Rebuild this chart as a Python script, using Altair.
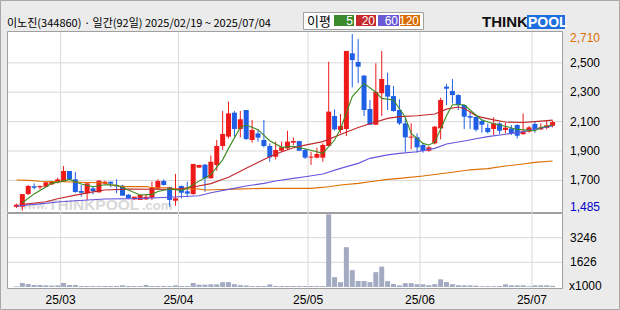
import altair as alt
import pandas as pd

# ---------------- data ----------------
title_text = "이노진(344860) · 일간(92일) 2025/02/19 ~ 2025/07/04"

open_ = [1520, 1521, 1607, 1660, 1653, 1657, 1673, 1687, 1691, 1764,
         1707, 1628, 1612, 1646, 1619, 1678, 1691, 1666, 1664, 1603,
         1571, 1567, 1571, 1582, 1644, 1696, 1655, 1562, 1662, 1626,
         1607, 1787, 1807, 1714, 1805, 1934, 1998, 2161, 2050, 2179,
         1975, 2020, 1975, 1934, 1861, 1902, 1918, 1957, 1968, 1907,
         1855, 1855, 1855, 1934, 2138, 2043, 2050, 2565, 2506, 2413,
         2186, 2079, 2293, 2349, 2274, 2179, 2088, 1991, 1993, 1941,
         1902, 1952, 2054, 2338, 2308, 2281, 2213, 2138, 2132, 2104,
         2057, 2050, 2088, 2043, 2054, 2077, 2014, 2032, 2084, 2047,
         2057, 2072]
high = [1542, 1607, 1669, 1680, 1666, 1691, 1696, 1718, 1798, 1764,
        1757, 1669, 1680, 1662, 1703, 1696, 1691, 1707, 1669, 1607,
        1589, 1605, 1607, 1691, 1707, 1707, 1657, 1744, 1666, 1691,
        1812, 1807, 1812, 1870, 1975, 2172, 2236, 2172, 2172, 2179,
        2111, 2043, 2111, 1952, 1964, 1964, 2038, 1993, 1968, 1918,
        1895, 1923, 1952, 2508, 2184, 2152, 2581, 2696, 2662, 2417,
        2247, 2497, 2581, 2433, 2342, 2252, 2129, 2088, 2020, 1952,
        1934, 2070, 2263, 2356, 2390, 2286, 2213, 2168, 2134, 2116,
        2088, 2129, 2095, 2093, 2077, 2082, 2156, 2070, 2100, 2088,
        2107, 2107]
low = [1512, 1494, 1601, 1639, 1639, 1653, 1669, 1680, 1691, 1707,
       1616, 1589, 1567, 1605, 1616, 1675, 1653, 1612, 1596, 1573,
       1567, 1567, 1567, 1567, 1639, 1664, 1521, 1528, 1578, 1585,
       1603, 1787, 1623, 1714, 1766, 1907, 1986, 1998, 1993, 1975,
       1957, 1964, 1925, 1827, 1843, 1895, 1910, 1941, 1902, 1846,
       1805, 1850, 1827, 1934, 2038, 2020, 2002, 2333, 2361, 2138,
       2079, 2079, 2138, 2179, 2168, 2077, 1895, 1911, 1889, 1889,
       1895, 1945, 1979, 2213, 2224, 2179, 2050, 2050, 2032, 2025,
       2020, 2009, 2016, 2020, 2009, 1986, 2014, 2025, 2025, 2043,
       2048, 2061]
close = [1535, 1607, 1662, 1650, 1662, 1687, 1691, 1707, 1764, 1707,
         1621, 1616, 1680, 1628, 1698, 1691, 1678, 1659, 1596, 1578,
         1589, 1601, 1589, 1653, 1696, 1669, 1567, 1578, 1616, 1610,
         1812, 1805, 1714, 1827, 1934, 2016, 2156, 2050, 2116, 1982,
         2043, 1991, 1934, 1857, 1907, 1925, 1964, 1968, 1902, 1855,
         1862, 1880, 1941, 2168, 2047, 2070, 2581, 2519, 2474, 2179,
         2079, 2302, 2390, 2270, 2172, 2088, 1993, 1998, 1925, 1902,
         1925, 2066, 2247, 2324, 2281, 2213, 2134, 2127, 2045, 2079,
         2029, 2088, 2038, 2059, 2020, 2004, 2032, 2061, 2050, 2061,
         2075, 2097]
volume = [44, 263, 197, 132, 132, 110, 88, 110, 263, 132,
          132, 66, 66, 66, 66, 66, 66, 66, 110, 66,
          66, 66, 132, 66, 66, 66, 66, 110, 66, 66,
          263, 154, 154, 175, 175, 318, 318, 186, 121, 99,
          66, 66, 66, 175, 66, 66, 66, 66, 66, 66,
          66, 66, 66, 4781, 647, 318, 2620, 1108, 395, 395,
          318, 976, 1340, 384, 197, 110, 252, 252, 186, 175,
          121, 186, 504, 329, 186, 121, 110, 110, 88, 55,
          55, 55, 66, 175, 110, 110, 110, 55, 110, 110,
          110, 77]

ma5_idx = [1, 3, 5, 6, 8, 9, 11, 13, 15, 17, 19, 21, 23, 24, 26, 28, 29, 31,
           33, 35, 36, 38, 39, 41, 43, 45, 47, 50, 52, 54, 55, 57, 59, 61,
           62, 64, 66, 67, 69, 70, 71, 73, 74, 76, 77, 79, 81, 83, 85, 88, 89, 91]
ma5_val = [1548, 1608, 1655, 1680, 1697, 1707, 1676, 1657, 1670, 1669, 1635,
           1601, 1605, 1625, 1641, 1632, 1646, 1695, 1740, 1840, 1918, 2060,
           2077, 2045, 1970, 1925, 1932, 1905, 1884, 1975, 2050, 2270, 2360,
           2300, 2258, 2247, 2130, 2020, 1952, 1941, 1960, 2140, 2215, 2215,
           2179, 2111, 2085, 2068, 2047, 2038, 2060, 2077]
ma20_idx = [1, 2, 5, 7, 10, 13, 15, 19, 23, 27, 30, 33, 36, 39, 42, 44, 47, 49,
            52, 55, 58, 60, 63, 65, 68, 71, 73, 75, 76, 77, 78, 79, 81, 83, 86,
            88, 91]
ma20_val = [1535, 1541, 1555, 1575, 1600, 1622, 1635, 1641, 1640, 1639, 1655,
            1678, 1722, 1782, 1843, 1880, 1922, 1940, 1964, 2012, 2060, 2086,
            2122, 2134, 2140, 2152, 2185, 2200, 2190, 2165, 2140, 2129, 2112,
            2097, 2094, 2100, 2110]
ma60_idx = [0, 4, 7, 10, 15, 20, 26, 31, 33, 36, 39, 42, 44, 47, 49, 52, 55, 58,
            60, 63, 65, 68, 71, 73, 76, 78, 80, 83, 86, 88, 91]
ma60_val = [1526, 1540, 1553, 1562, 1573, 1576, 1585, 1596, 1616, 1639, 1662,
            1680, 1696, 1714, 1725, 1744, 1782, 1816, 1850, 1874, 1884, 1895,
            1918, 1948, 1968, 1983, 1998, 2014, 2032, 2048, 2070]
ma120_idx = [0, 2, 4, 8, 12, 15, 16, 18, 22, 23, 26, 27, 31, 32, 35, 37, 42, 50,
             53, 55, 58, 60, 63, 65, 69, 74, 77, 80, 83, 86, 88, 91]
ma120_val = [1703, 1700, 1694, 1691, 1686, 1684, 1669, 1658, 1658, 1650, 1650,
             1642, 1642, 1635, 1638, 1641, 1646, 1646, 1657, 1669, 1680, 1691,
             1707, 1714, 1730, 1755, 1772, 1780, 1798, 1812, 1823, 1832]

price_ticks = [2500, 2300, 2100, 1900, 1700]
price_top = 2710
price_bottom = 1485
vol_ticks = [1626, 3246]
vol_max = 4869
month_labels = ["25/03", "25/04", "25/05", "25/06", "25/07"]
month_first_idx = [8, 28, 50, 69, 88]
legend_title = "이평"
legend_labels = ["5", "20", "60", "120"]

# ---------------- styling ----------------
UP, DOWN = "#ee1a1a", "#1f5fe6"
C5, C20, C60, C120 = "#3a8a1e", "#c0282a", "#6655dd", "#dd6e00"
LEG = ["#3b8a2c", "#c52a2a", "#6a5ad6", "#d96c00"]
GRID = "#d8d8d8"
BORDER = "#a0a0a0"
NUMFONT = "Liberation Sans"
KFONT = "Noto Sans CJK KR"

W, H = 554, 255
PH = 180            # price panel height
VT, VB = 181, 255   # volume panel top / bottom

n = len(close)
cdf = pd.DataFrame({
    "idx": list(range(n)), "o": open_, "h": high, "l": low, "c": close,
    "v": volume,
})
cdf["top"] = cdf[["o", "c"]].max(axis=1)
cdf["bot"] = cdf[["o", "c"]].min(axis=1)
cdf["dir"] = ["up" if c >= o else "down" for o, c in zip(open_, close)]

d0 = -3.5 / 6
xs = alt.Scale(domain=[d0, d0 + W / 6], nice=False, zero=False)
ps = alt.Scale(domain=[price_bottom, price_top], range=[PH, 0], nice=False, zero=False)
vs = alt.Scale(domain=[0, vol_max], range=[VB, VT], nice=False, zero=True)
X = alt.X("idx:Q", scale=xs, axis=None)
col = alt.Color("dir:N", scale=alt.Scale(domain=["up", "down"], range=[UP, DOWN]), legend=None)

one = pd.DataFrame({"k": [0]})
base1 = alt.Chart(one)

layers = []

# panels
layers.append(base1.mark_rect(fill="white", stroke=BORDER, strokeWidth=1).encode(
    x=alt.value(-0.5), x2=alt.value(554.5), y=alt.value(-0.5), y2=alt.value(180.5)))
layers.append(base1.mark_rect(fill="white", stroke=BORDER, strokeWidth=1).encode(
    x=alt.value(-0.5), x2=alt.value(554.5), y=alt.value(181.5), y2=alt.value(256.5)))

# horizontal grid
layers.append(alt.Chart(pd.DataFrame({"p": price_ticks})).mark_rule(color=GRID, strokeWidth=1).encode(
    y=alt.Y("p:Q", scale=ps, axis=None), x=alt.value(0), x2=alt.value(554)))
layers.append(alt.Chart(pd.DataFrame({"p": vol_ticks})).mark_rule(color=GRID, strokeWidth=1).encode(
    y=alt.Y("p:Q", scale=vs, axis=None), x=alt.value(0), x2=alt.value(554)))

# vertical grid
gdf = pd.DataFrame({"idx": [i - 0.5 for i in month_first_idx], "lab": month_labels})
layers.append(alt.Chart(gdf).mark_rule(color=GRID, strokeWidth=1).encode(
    x=X, y=alt.value(0), y2=alt.value(256)))

# watermark
wm_color = "#c6c6c6"
layers.append(base1.mark_text(text="www.", font=NUMFONT, fontSize=11, fontWeight="bold",
                              color=wm_color, opacity=0.65, align="left", baseline="alphabetic").encode(
    x=alt.value(11), y=alt.value(177)))
layers.append(base1.mark_text(text="THINKPOOL", font=NUMFONT, fontSize=15.5, fontWeight="bold",
                              color=wm_color, opacity=0.65, align="left", baseline="alphabetic").encode(
    x=alt.value(40), y=alt.value(178)))
layers.append(base1.mark_text(text=".com", font=NUMFONT, fontSize=13, fontWeight="bold",
                              color=wm_color, opacity=0.65, align="left", baseline="alphabetic").encode(
    x=alt.value(134), y=alt.value(178)))

# candles
cbase = alt.Chart(cdf)
layers.append(cbase.mark_rule(strokeWidth=1).encode(
    x=X, y=alt.Y("l:Q", scale=ps, axis=None), y2="h:Q", color=col))
layers.append(cbase.mark_bar(size=5).encode(
    x=X, y=alt.Y("bot:Q", scale=ps, axis=None), y2="top:Q", color=col))

# moving averages
for ids, vals, c in [(ma120_idx, ma120_val, C120), (ma60_idx, ma60_val, C60),
                     (ma20_idx, ma20_val, C20), (ma5_idx, ma5_val, C5)]:
    mdf = pd.DataFrame({"idx": ids, "m": vals})
    layers.append(alt.Chart(mdf).mark_line(color=c, strokeWidth=1.1).encode(
        x=X, y=alt.Y("m:Q", scale=ps, axis=None)))

# volume
layers.append(cbase.mark_bar(size=5, color="#a3abc3").encode(
    x=X, y=alt.Y("v:Q", scale=vs, axis=None)))

# right price labels
layers.append(alt.Chart(pd.DataFrame({"p": price_ticks})).mark_text(
    font=NUMFONT, fontSize=12, color="#000", align="left", baseline="middle").encode(
    y=alt.Y("p:Q", scale=ps, axis=None), x=alt.value(562),
    text=alt.Text("p:Q", format=",")))
layers.append(base1.mark_text(text=f"{price_top:,}", font=NUMFONT, fontSize=12, color=C120,
                              align="left", baseline="middle").encode(x=alt.value(562), y=alt.value(6)))
layers.append(base1.mark_text(text=f"{price_bottom:,}", font=NUMFONT, fontSize=12, color="#0000cc",
                              align="left", baseline="middle").encode(x=alt.value(562), y=alt.value(175)))

# volume labels
layers.append(alt.Chart(pd.DataFrame({"p": vol_ticks})).mark_text(
    font=NUMFONT, fontSize=12, color="#000", align="left", baseline="middle").encode(
    y=alt.Y("p:Q", scale=vs, axis=None), x=alt.value(562), text=alt.Text("p:Q", format="d")))
layers.append(base1.mark_text(text="x1000", font=NUMFONT, fontSize=12, color="#000",
                              align="left", baseline="middle").encode(x=alt.value(561), y=alt.value(254)))

# x labels
layers.append(alt.Chart(gdf).mark_text(font=NUMFONT, fontSize=12, color="#000",
                                       align="center", baseline="middle").encode(
    x=X, y=alt.value(268), text="lab:N"))

# header: title
layers.append(base1.mark_text(text=title_text, font=KFONT, fontSize=11, color="#000",
                              align="left", baseline="alphabetic").encode(x=alt.value(-1), y=alt.value(-5)))
# legend box
layers.append(base1.mark_rect(fill="white", stroke=BORDER, strokeWidth=1).encode(
    x=alt.value(295.5), x2=alt.value(415.5), y=alt.value(-19.5), y2=alt.value(-2.5)))
layers.append(base1.mark_text(text=legend_title, font=KFONT, fontSize=13, color="#000",
                              align="left", baseline="alphabetic").encode(x=alt.value(299), y=alt.value(-6)))
box_x = [(326, 346), (348, 368), (370, 391), (392, 412)]
for (a, b), lab, c in zip(box_x, legend_labels, LEG):
    layers.append(base1.mark_rect(fill=c).encode(
        x=alt.value(a), x2=alt.value(b), y=alt.value(-17), y2=alt.value(-6)))
    layers.append(base1.mark_text(text=lab, font=NUMFONT, fontSize=12, color="white",
                                  align="right", baseline="alphabetic").encode(
        x=alt.value(b - 1), y=alt.value(-7)))

# logo
layers.append(base1.mark_text(text="THINK", font=NUMFONT, fontSize=15, fontWeight="bold", color="#111",
                              align="left", baseline="alphabetic").encode(x=alt.value(474), y=alt.value(-5)))
layers.append(base1.mark_rect(fill="#1f6fe0").encode(
    x=alt.value(519), x2=alt.value(557), y=alt.value(-17), y2=alt.value(-3)))
layers.append(base1.mark_text(text="POOL", font=NUMFONT, fontSize=14, fontWeight="bold", color="white",
                              align="left", baseline="alphabetic").encode(x=alt.value(520), y=alt.value(-5)))

# outer border
layers.append(base1.mark_rect(fill=None, stroke="#a8a8a8", strokeWidth=1).encode(
    x=alt.value(-7.5), x2=alt.value(611.5), y=alt.value(-31.5), y2=alt.value(277.5)))

chart = alt.layer(*layers).resolve_scale(y="independent").properties(
    width=W, height=H,
    autosize=alt.AutoSizeParams(type="none"),
    padding={"left": 8, "top": 32, "right": 58, "bottom": 23},
    background="#ebebeb",
).configure_view(stroke=None)

chart.save("out.html", embed_options={"renderer": "svg", "actions": False})
